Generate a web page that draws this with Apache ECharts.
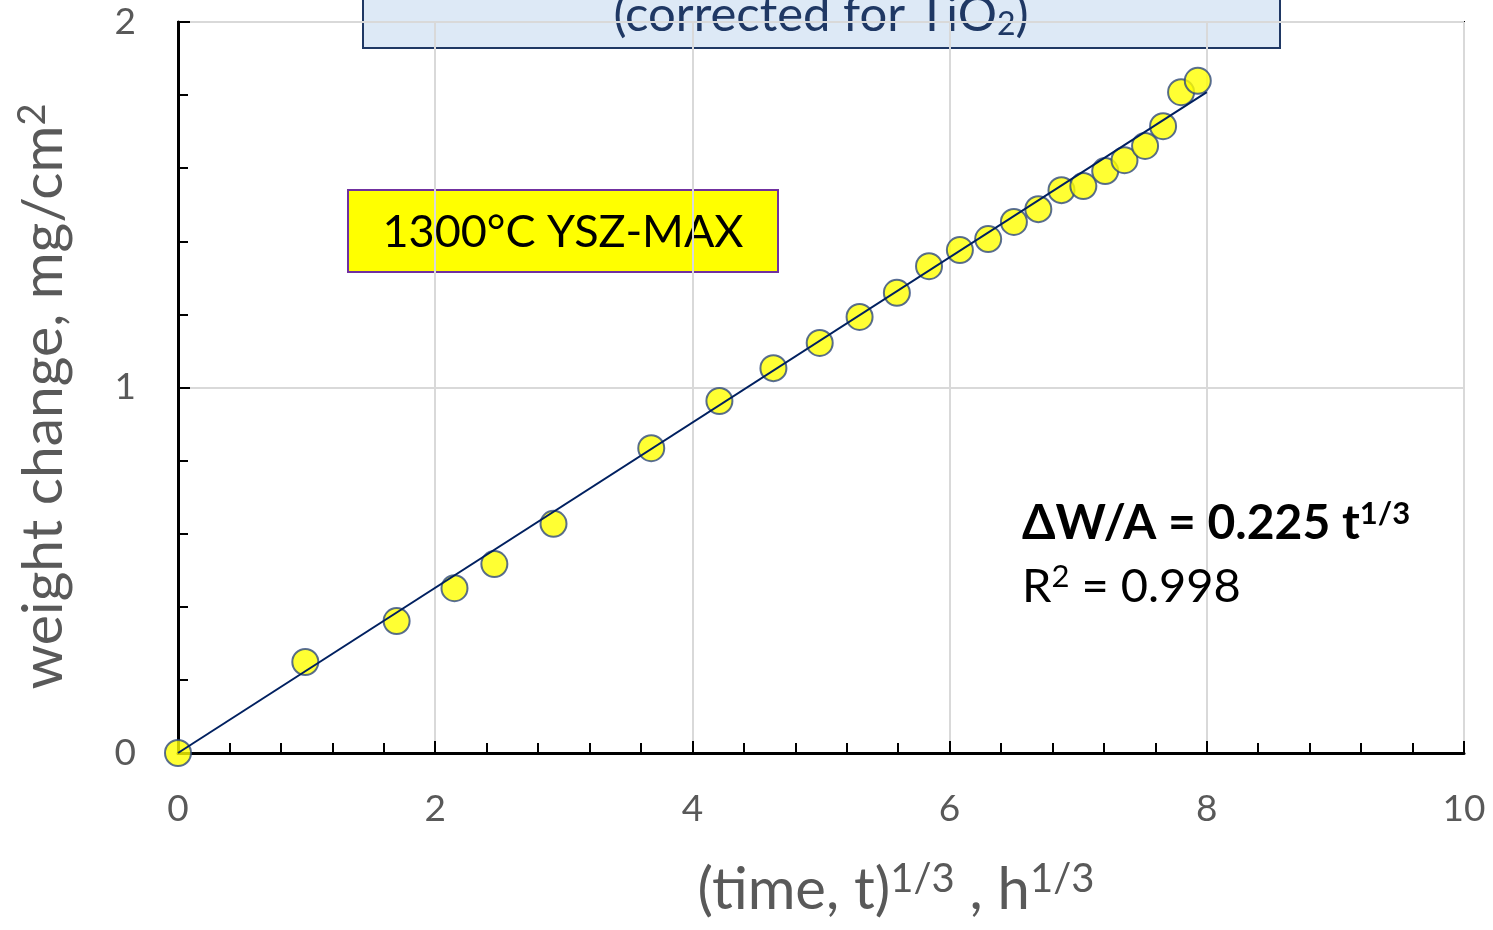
<!DOCTYPE html>
<html>
	<head>
		<meta charset="utf-8" />
		<title></title>
	</head>
	<body style="margin:0;background:#fff;">
		<div id="chart" style="width:1493px;height:930px;"></div>
	</body>
</html>
<script src="https://cdn.jsdelivr.net/npm/echarts@6/dist/echarts.min.js"></script>
<script>
	// (time)^1/3, h^1/3  and weight change, mg/cm2
	var tCube = [0, 0.99, 1.70, 2.15, 2.46, 2.92, 3.68, 4.21, 4.63, 4.99, 5.30, 5.59, 5.84, 6.08, 6.30, 6.50, 6.69, 6.87, 7.04, 7.21, 7.36, 7.52, 7.66, 7.80, 7.93];
	var weight = [0, 0.249, 0.361, 0.451, 0.517, 0.627, 0.834, 0.963, 1.053, 1.122, 1.193, 1.259, 1.332, 1.376, 1.406, 1.453, 1.488, 1.540, 1.551, 1.592, 1.622, 1.661, 1.715, 1.808, 1.839];
	var fitX = [0, 8];
	var slope = 0.226;
	var xLabels = [0, 2, 4, 6, 8, 10];
	var yLabels = [0, 1, 2];

	var pts = [];
	for (var i = 0; i < tCube.length; i++) {
		pts.push([tCube[i], weight[i]]);
	}
	var fit = [];
	for (var j = 0; j < fitX.length; j++) {
		fit.push([fitX[j], fitX[j] * slope]);
	}

	var font = 'Lato, "Open Sans", sans-serif';
	var gray = '#595959';
	var myChart = echarts.init(document.getElementById('chart'));

	var options = {
		animation: false,
		grid: {
			left: 178, top: 22, right: 29, bottom: 177,
			show: true, borderColor: '#000', borderWidth: 2
		},
		xAxis: {
			type: 'value',
			min: 0, max: 10, interval: 2,
			name: '(time, t){sup|1/3} , h{sup|1/3}',
			nameLocation: 'middle',
			nameGap: 106,
			nameTextStyle: {
				color: gray, fontFamily: font, fontSize: 58,
				padding: [0, 0, 0, 150],
				rich: {
					sup: { fontSize: 40, verticalAlign: 'top', color: gray, fontFamily: font, padding: [0, 0, 22, 0] }
				}
			},
			axisLine: { onZero: false, lineStyle: { color: '#000', width: 3 } },
			axisTick: { inside: true, length: 12, lineStyle: { color: '#000', width: 2 } },
			minorTick: { show: true, splitNumber: 5, length: 10, lineStyle: { color: '#000', width: 2 } },
			splitLine: { lineStyle: { color: '#d9d9d9', width: 2 } },
			axisLabel: {
				margin: 38, color: gray, fontFamily: font, fontSize: 37,
				formatter: function (v) { return xLabels.indexOf(v) >= 0 ? String(v) : ''; }
			}
		},
		yAxis: {
			type: 'value',
			min: 0, max: 2, interval: 1,
			name: 'weight change, mg/cm{sup|2}',
			nameLocation: 'middle',
			nameRotate: 90,
			nameGap: 104,
			nameTextStyle: {
				color: gray, fontFamily: font, fontSize: 57,
				padding: [0, 18, 0, 0],
				rich: {
					sup: { fontSize: 38, verticalAlign: 'top', color: gray, fontFamily: font, padding: [0, 0, 22, 0] }
				}
			},
			axisLine: { onZero: false, lineStyle: { color: '#000', width: 3 } },
			axisTick: { inside: true, length: 12, lineStyle: { color: '#000', width: 2 } },
			minorTick: { show: true, splitNumber: 5, length: 10, lineStyle: { color: '#000', width: 2 } },
			splitLine: { lineStyle: { color: '#d9d9d9', width: 2 } },
			axisLabel: {
				margin: 42, color: gray, fontFamily: font, fontSize: 37,
				formatter: function (v) { return yLabels.indexOf(v) >= 0 ? String(v) : ''; }
			}
		},
		graphic: [
			{
				type: 'group', z: 100,
				children: [
					{
						type: 'rect',
						shape: { x: 363, y: -10, width: 917, height: 58 },
						style: { fill: '#dde9f6', stroke: '#1f3864', lineWidth: 2 }
					},
					{
						type: 'text',
						x: 821, y: 15,
						style: {
							text: '(corrected for TiO{sub|2})',
							fill: '#1f3864', font: '49px ' + font,
							align: 'center', verticalAlign: 'middle',
							rich: {
								sub: { fontSize: 32, fill: '#1f3864', fontFamily: font, verticalAlign: 'bottom', padding: [20, 0, 0, 0] }
							}
						}
					}
				]
			},
			{
				type: 'group', z: 100,
				children: [
					{
						type: 'rect',
						shape: { x: 348, y: 190, width: 430, height: 82 },
						style: { fill: '#ffff00', stroke: '#7030a0', lineWidth: 2 }
					},
					{
						type: 'text',
						x: 563, y: 232,
						style: {
							text: '1300°C YSZ-MAX',
							fill: '#000', font: '45px ' + font,
							align: 'center', verticalAlign: 'middle'
						}
					}
				]
			},
			{
				type: 'text', z: 100,
				x: 1022, y: 524,
				style: {
					text: 'ΔW/A = 0.225 t{sup|1/3}',
					fill: '#000', font: 'bold 48px ' + font,
					verticalAlign: 'middle',
					rich: {
						sup: { fontSize: 31, fontWeight: 'bold', fill: '#000', fontFamily: font, verticalAlign: 'top', padding: [0, 0, 20, 0] }
					}
				}
			},
			{
				type: 'text', z: 100,
				x: 1022, y: 587,
				style: {
					text: 'R{sup|2} = 0.998',
					fill: '#000', font: '47px ' + font,
					verticalAlign: 'middle',
					rich: {
						sup: { fontSize: 31, fill: '#000', fontFamily: font, verticalAlign: 'top', padding: [0, 0, 20, 0] }
					}
				}
			}
		],
		series: [
			{
				name: 'fit',
				type: 'line',
				data: fit,
				symbol: 'none',
				lineStyle: { color: '#002060', width: 2 },
				z: 3
			},
			{
				name: 'data',
				type: 'scatter',
				data: pts,
				symbolSize: 26,
				itemStyle: { color: '#ffff00', borderColor: '#2f4a80', borderWidth: 2 },
				z: 2
			}
		]
	};
	myChart.setOption(options);
</script>
